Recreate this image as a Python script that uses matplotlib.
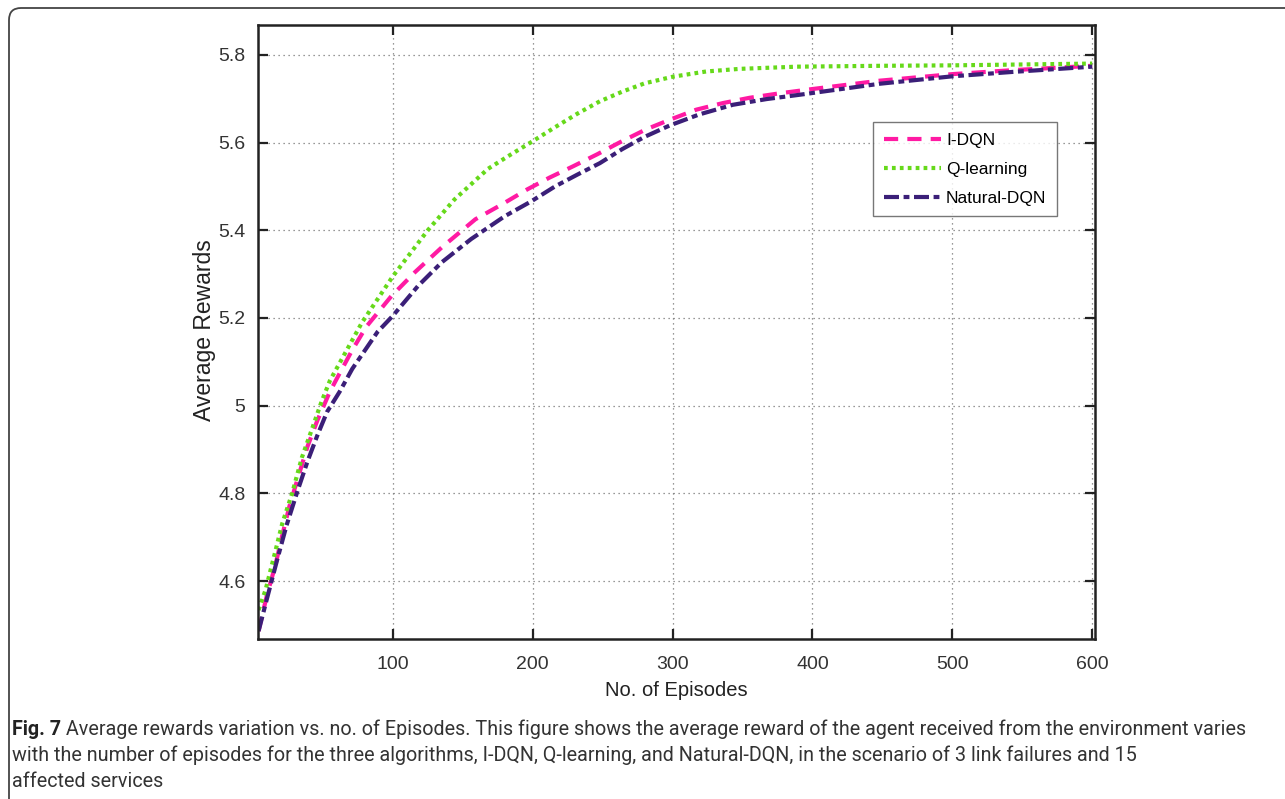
import numpy as np
import matplotlib
matplotlib.use("Agg")
import matplotlib.pyplot as plt
from matplotlib.patches import FancyBboxPatch
from matplotlib.transforms import IdentityTransform

# data
x_idqn = [4, 10, 16, 21, 26, 32, 39, 46, 55, 61, 71, 81, 99, 116, 135, 159, 178,
          196, 212, 229, 246, 262, 281, 298, 317, 336, 355, 376, 400, 448, 500, 543, 600]
idqn = [4.486, 4.568, 4.636, 4.705, 4.77, 4.834, 4.907, 4.966, 5.032, 5.068, 5.127,
        5.18, 5.25, 5.305, 5.361, 5.425, 5.459, 5.493, 5.52, 5.546, 5.573, 5.60, 5.63,
        5.652, 5.675, 5.69, 5.702, 5.712, 5.722, 5.741, 5.756, 5.765, 5.775]

x_q = [4, 9, 16, 21, 28, 35, 42, 49, 55, 78, 100, 125, 144, 168, 184, 200, 216,
       232, 248, 264, 280, 300, 324, 348, 389, 450, 500, 600]
qlearn = [4.534, 4.58, 4.668, 4.732, 4.80, 4.882, 4.945, 5.009, 5.057, 5.19, 5.295,
          5.40, 5.47, 5.540, 5.572, 5.603, 5.635, 5.666, 5.694, 5.716, 5.735,
          5.75, 5.762, 5.768, 5.773, 5.775, 5.776, 5.78]

x_nat = [4, 10, 17, 24, 32, 39, 46, 53, 62, 71, 89, 100, 118, 135, 156, 180, 199, 216,
         232, 248, 264, 280, 298, 319, 343, 367, 391, 448, 500, 543, 600]
natural = [4.486, 4.56, 4.645, 4.727, 4.807, 4.873, 4.932, 4.986, 5.032, 5.084, 5.168,
           5.205, 5.273, 5.327, 5.38, 5.432, 5.466, 5.5, 5.527, 5.553, 5.585, 5.613,
           5.639, 5.664, 5.686, 5.699, 5.709, 5.734, 5.751, 5.761, 5.773]

x_ticks = [100, 200, 300, 400, 500, 600]
y_ticks = [4.6, 4.8, 5.0, 5.2, 5.4, 5.6, 5.8]
y_ticklabels = ["4.6", "4.8", "5", "5.2", "5.4", "5.6", "5.8"]

caption_bold = "Fig. 7"
caption_lines = [
    " Average rewards variation vs. no. of Episodes. This figure shows the average reward of the agent received from the environment varies",
    "with the number of episodes for the three algorithms, I-DQN, Q-learning, and Natural-DQN, in the scenario of 3 link failures and 15",
    "affected services",
]

plt.rcParams['font.family'] = ['Liberation Sans', 'DejaVu Sans']

fig = plt.figure(figsize=(12.85, 7.99), dpi=100)
ax = fig.add_axes([258 / 1285, 1 - 639 / 799, (1095 - 258) / 1285, (639 - 25) / 799])

ax.plot(x_idqn, idqn, color='#ff1aa3', lw=3.0, dashes=(3.4, 2.2), label='I-DQN')
ax.plot(x_q, qlearn, color='#66d91a', lw=3.0, dashes=(0.9, 1.0), label='Q-learning')
ax.plot(x_nat, natural, color='#3b1f78', lw=3.0, dashes=(3.6, 1.1, 1.4, 1.1),
        label='Natural-DQN')

ax.set_xlim(3.6, 602)
ax.set_ylim(4.468, 5.868)
ax.set_xticks(x_ticks)
ax.set_yticks(y_ticks)
ax.set_yticklabels(y_ticklabels)
ax.grid(True, linestyle=(0, (1, 3)), color='#777777', lw=0.9)
ax.tick_params(direction='in', length=7, width=1.6, top=True, right=True,
               labelsize=14, colors='#222222', labelcolor='#333333')
ax.tick_params(axis='y', pad=9)
ax.tick_params(axis='x', pad=12)
for s in ax.spines.values():
    s.set_linewidth(1.8)
    s.set_color('#222222')

ax.set_xlabel('No. of Episodes', fontsize=14.5, color='#222222')
ax.xaxis.set_label_coords(0.5, -(691 - 639) / 614, transform=ax.transAxes)
ax.xaxis.label.set_va('center')
ax.set_ylabel('Average Rewards', fontsize=16.5, color='#222222')
ax.yaxis.set_label_coords(-(258 - 205) / 837, 1 - (330 - 25) / 614, transform=ax.transAxes)
ax.yaxis.label.set_va('center')

leg = ax.legend(loc='upper left', bbox_to_anchor=(0.735, 0.842), borderaxespad=0,
                fontsize=12.5, frameon=True, fancybox=False, handlelength=3.3,
                handletextpad=0.3, labelspacing=0.8, borderpad=0.6)
leg.get_frame().set_edgecolor('#555555')
leg.get_frame().set_linewidth(1.0)

# outer rounded frame (pixel coordinates)
frame = FancyBboxPatch((9, -30), 1320, 799 - 8 + 30,
                       boxstyle="round,pad=0,rounding_size=12",
                       transform=IdentityTransform(), fill=False,
                       edgecolor='#444444', lw=1.3)
fig.patches.append(frame)

# caption, font size fitted so the first line spans like the reference
cap_font = ['Roboto', 'DejaVu Sans']
renderer = fig.canvas.get_renderer()
probe = fig.text(0, 0, caption_bold + caption_lines[0], fontsize=10, family=cap_font)
w10 = probe.get_window_extent(renderer).width
probe.remove()
cap_size = 10 * (1245 - 12) / w10

t1 = fig.text(12 / 1285, 1 - 735 / 799, caption_bold, fontsize=cap_size, fontweight='bold',
              family=cap_font, color='#222222', va='baseline')
ax.annotate(caption_lines[0], xy=(1, 0), xycoords=t1, fontsize=cap_size,
            family=cap_font, color='#333333', va='bottom', annotation_clip=False)
fig.text(12 / 1285, 1 - 761 / 799, caption_lines[1], fontsize=cap_size, family=cap_font,
         color='#333333', va='baseline')
fig.text(12 / 1285, 1 - 787 / 799, caption_lines[2], fontsize=cap_size, family=cap_font,
         color='#333333', va='baseline')

fig.savefig('out.png', dpi=100)
